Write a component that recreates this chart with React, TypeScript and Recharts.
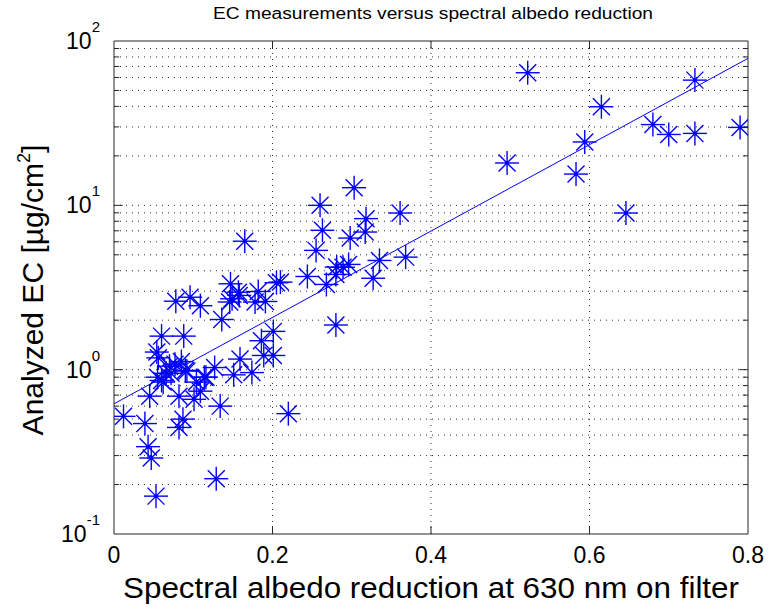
import React from "react";
import {
  ComposedChart,
  Scatter,
  Line,
  XAxis,
  YAxis,
  ReferenceLine,
  ReferenceArea,
} from "recharts";

// spectral albedo reduction (x) and analyzed EC in µg/cm² (y)
const albedoReduction = [
  0.012, 0.039, 0.043, 0.047, 0.053, 0.045, 0.054, 0.056, 0.060, 0.060,
  0.055, 0.062, 0.066, 0.070, 0.072, 0.077, 0.078, 0.082, 0.082, 0.085,
  0.087, 0.088, 0.090, 0.092, 0.096, 0.101, 0.104, 0.109, 0.109, 0.114,
  0.116, 0.127, 0.129, 0.134, 0.136, 0.146, 0.147, 0.149, 0.151, 0.157,
  0.158, 0.159, 0.165, 0.174, 0.178, 0.182, 0.186, 0.189, 0.191, 0.201,
  0.201, 0.205, 0.210, 0.220, 0.244, 0.255, 0.260, 0.263, 0.268, 0.280,
  0.281, 0.280, 0.289, 0.296, 0.298, 0.303, 0.317, 0.318, 0.327, 0.335,
  0.361, 0.368, 0.496, 0.522, 0.583, 0.594, 0.615, 0.646, 0.680, 0.700,
  0.733, 0.733, 0.790,
];
const ecValues = [
  0.52, 0.47, 0.34, 0.29, 0.17, 0.69, 1.28, 1.18, 1.60, 0.86,
  0.90, 0.84, 0.95, 1.05, 0.95, 1.08, 2.61, 0.69, 0.445, 1.12,
  0.50, 1.60, 0.99, 0.98, 2.76, 0.66, 0.84, 2.45, 0.74, 0.90,
  0.90, 1.03, 0.217, 0.60, 2.02, 2.58, 3.33, 2.70, 0.93, 2.96,
  2.83, 1.16, 6.05, 0.96, 2.58, 2.99, 1.50, 1.22, 2.60, 1.71,
  1.22, 3.38, 3.41, 0.54, 3.69, 5.32, 10.0, 7.05, 3.30, 3.80,
  4.21, 1.87, 4.20, 4.37, 6.32, 12.8, 6.88, 8.3, 3.60, 4.62,
  8.98, 4.84, 18.1, 64.1, 15.5, 24.3, 39.8, 8.98, 31.0, 27.0,
  27.4, 57.8, 29.8,
];

// end points of the fitted line (straight on the log axis)
const fitX = [0, 0.8];
const fitY = [0.62, 78.4];

const xTicks = [0, 0.2, 0.4, 0.6, 0.8];
const yTicks = [0.1, 1, 10, 100];
const yExponents = ["-1", "0", "1", "2"];
const yGrid = [
  0.2, 0.3, 0.4, 0.5, 0.6, 0.7, 0.8, 0.9, 1,
  2, 3, 4, 5, 6, 7, 8, 9, 10,
  20, 30, 40, 50, 60, 70, 80, 90,
];
const xGrid = [0.2, 0.4, 0.6];

const points = albedoReduction.map((x, i) => ({ x, y: ecValues[i] }));
const fitData = fitX.map((x, i) => ({ x, y: fitY[i] }));

const FONT = "'Liberation Sans', Arial, Helvetica, sans-serif";
const BLUE = "#0000ff";
const INK = "#262626";

// inward tick marks of the axes box, in data units
const minorLen = 0.0065;
const majorLen = 0.011;

function Star(props: any) {
  const { cx, cy } = props;
  if (cx == null || cy == null) return null;
  const r = 12;
  const d = 8.5;
  return (
    <g stroke={BLUE} strokeWidth={1.4}>
      <line x1={cx - r} y1={cy} x2={cx + r} y2={cy} />
      <line x1={cx} y1={cy - r} x2={cx} y2={cy + r} />
      <line x1={cx - d} y1={cy - d} x2={cx + d} y2={cy + d} />
      <line x1={cx - d} y1={cy + d} x2={cx + d} y2={cy - d} />
      <circle cx={cx} cy={cy} r={2} fill={BLUE} stroke="none" />
    </g>
  );
}

function PowerTick(props: any) {
  const { x, y, payload } = props;
  const idx = yTicks.indexOf(payload.value);
  return (
    <text x={x - 12} y={y + 8} textAnchor="end" fontFamily={FONT} fontSize={23} fill="#000">
      10
      <tspan dy={-17} fontSize={15}>{yExponents[idx]}</tspan>
    </text>
  );
}

export default function App() {
  return (
    <div style={{ position: "absolute", left: 0, top: 0, background: "#fff" }}>
      <ComposedChart
        width={769}
        height={609}
        margin={{ top: 41, right: 21, bottom: 0, left: 0 }}
      >
        <XAxis
          type="number"
          dataKey="x"
          domain={[0, 0.8]}
          ticks={xTicks}
          allowDataOverflow
          height={75}
          tickSize={0}
          tickMargin={13}
          tickLine={false}
          axisLine={false}
          tickFormatter={(v: number) => String(v)}
          tick={{ fontSize: 23, fill: "#000", fontFamily: FONT }}
        />
        <YAxis
          type="number"
          dataKey="y"
          scale="log"
          domain={[0.1, 100]}
          ticks={yTicks}
          allowDataOverflow
          width={114}
          tickSize={0}
          tickLine={false}
          axisLine={false}
          tick={<PowerTick />}
        />
        {yGrid.map((v) => (
          <ReferenceLine key={"gy" + v} y={v} stroke="#333" strokeDasharray="1 5" />
        ))}
        {xGrid.map((v) => (
          <ReferenceLine key={"gx" + v} x={v} stroke="#333" strokeDasharray="1 5" />
        ))}
        {yGrid.map((v) => {
          const len = v === 1 || v === 10 ? majorLen : minorLen;
          return (
            <React.Fragment key={"ty" + v}>
              <ReferenceLine segment={[{ x: 0, y: v }, { x: len, y: v }]} stroke={INK} />
              <ReferenceLine segment={[{ x: 0.8 - len, y: v }, { x: 0.8, y: v }]} stroke={INK} />
            </React.Fragment>
          );
        })}
        {xGrid.map((v) => (
          <React.Fragment key={"tx" + v}>
            <ReferenceLine segment={[{ x: v, y: 0.1 }, { x: v, y: 0.112 }]} stroke={INK} />
            <ReferenceLine segment={[{ x: v, y: 89.4 }, { x: v, y: 100 }]} stroke={INK} />
          </React.Fragment>
        ))}
        <ReferenceArea x1={0} x2={0.8} y1={0.1} y2={100} fill="none" stroke={INK} strokeWidth={1} />
        <Line
          data={fitData}
          dataKey="y"
          type="linear"
          stroke={BLUE}
          strokeWidth={1}
          dot={false}
          activeDot={false}
          isAnimationActive={false}
        />
        <Scatter data={points} dataKey="y" shape={<Star />} isAnimationActive={false} />
        <text
          x={433}
          y={19}
          textAnchor="middle"
          fontFamily={FONT}
          fontSize={16}
          textLength={440}
          lengthAdjust="spacingAndGlyphs"
          fill="#000"
        >
          EC measurements versus spectral albedo reduction
        </text>
        <text
          x={431}
          y={598}
          textAnchor="middle"
          fontFamily={FONT}
          fontSize={29}
          textLength={616}
          lengthAdjust="spacingAndGlyphs"
          fill="#000"
        >
          Spectral albedo reduction at 630 nm on filter
        </text>
        <text
          x={43}
          y={290}
          transform="rotate(-90 43 290)"
          textAnchor="middle"
          fontFamily={FONT}
          fontSize={30}
          fill="#000"
        >
          Analyzed EC [µg/cm
          <tspan dy={-13} fontSize={18}>2</tspan>
          <tspan dy={13}>]</tspan>
        </text>
      </ComposedChart>
    </div>
  );
}
